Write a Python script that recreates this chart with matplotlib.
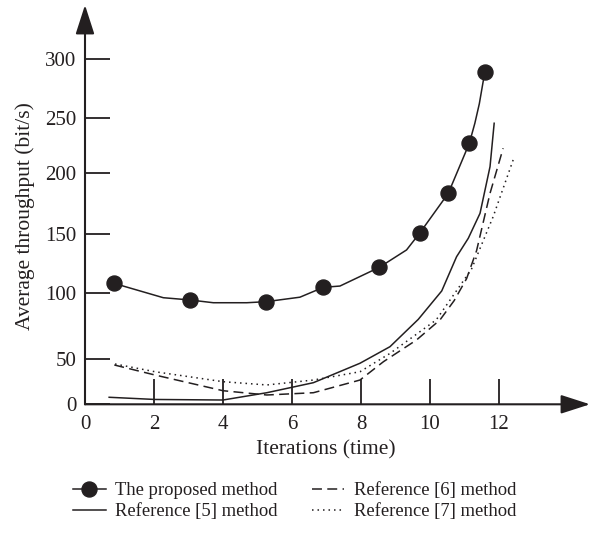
import numpy as np
from matplotlib import pyplot as plt

# --- data ---
proposed_x = [0.84, 2.27, 3.04, 3.72, 4.69, 5.25, 6.23, 6.91, 7.39, 8.53, 9.32, 9.71,
              10.53, 11.14, 11.30, 11.43, 11.59]
proposed_y = [108.0, 96.2, 94.5, 92.4, 92.4, 93.2, 96.6, 104.6, 105.7, 121.7, 136.6, 151.3,
              183.6, 227.0, 245.0, 262.0, 289.4]
proposed_marks = [0, 2, 5, 7, 9, 11, 12, 13, 16]

ref5_x = [0.70, 2.03, 4.0, 5.27, 6.62, 7.97, 8.84, 9.66, 10.34, 10.77, 11.11, 11.45, 11.74, 11.86]
ref5_y = [7.7, 5.3, 4.7, 12.7, 23.7, 45.0, 59.1, 79.8, 101.5, 130.8, 146.6, 167.2, 206.0, 245.0]

ref6_x = [0.85, 2.03, 4.0, 5.27, 6.62, 7.97, 8.65, 9.61, 10.29, 10.70, 11.06, 11.35, 11.74, 12.12]
ref6_y = [43.1, 32.1, 14.9, 10.2, 12.7, 26.6, 46.7, 64.2, 79.4, 94.0, 112.0, 136.0, 183.6, 222.5]

ref7_x = [0.87, 2.03, 4.0, 5.27, 6.62, 7.97, 8.84, 10.18, 11.20, 11.83, 12.41]
ref7_y = [44.2, 35.7, 24.8, 21.2, 26.6, 35.7, 54.0, 79.4, 120.0, 164.4, 212.0]

labels = ["The proposed method", "Reference [5] method",
          "Reference [6] method", "Reference [7] method"]
x_ticks = [0, 2, 4, 6, 8, 10, 12]
y_ticks = [0, 50, 100, 150, 200, 250, 300]

# --- uneven y axis of the original (pixel height of each tick) ---
scale_vals = [-50, 0, 50, 100, 150, 200, 250, 300, 400]
scale_px = [-45.6, 0, 45.6, 111.6, 170.0, 231.0, 286.6, 345.0, 461.8]


def forward(v):
    return np.interp(v, scale_vals, scale_px)


def inverse(h):
    return np.interp(h, scale_px, scale_vals)


ink = "#231f20"
plt.rcParams['font.family'] = ['Liberation Serif', 'DejaVu Serif']

fig = plt.figure(figsize=(6.01, 5.39), dpi=100)
W, H = 601, 539
ax = fig.add_axes([85 / W, (H - 404.3) / H, 505 / W, 399.3 / H])
ax.set_yscale('function', functions=(forward, inverse))

lw = 1.1
ax.plot(proposed_x, proposed_y, color=ink, lw=lw, marker='o', markersize=10.8,
        markevery=proposed_marks, clip_on=False)
ax.plot(ref5_x, ref5_y, color=ink, lw=lw, clip_on=False)
ax.plot(ref6_x, ref6_y, color=ink, lw=lw, dashes=(6.5, 3.5), clip_on=False)
ax.plot(ref7_x, ref7_y, color=ink, lw=lw, dashes=(1, 2.6), clip_on=False)

ax.set_xlim(0, 505 / 34.5)
ax.set_ylim(0, inverse(399.3))
ax.set_xticks(x_ticks)
ax.set_yticks(y_ticks)
ax.tick_params(direction='in', length=18, width=1.3, color=ink, labelcolor=ink,
               labelsize=15, pad=6)
ax.tick_params(axis='x', pad=8)

# axes drawn as arrows
for s in ax.spines.values():
    s.set_visible(False)
arrow = dict(arrowstyle='-|>,head_length=18,head_width=5.8', mutation_scale=1,
             lw=1.5, color=ink, shrinkA=0, shrinkB=0)
ax.annotate('', xy=(1, 0), xytext=(0, 0), xycoords='axes fraction', arrowprops=arrow,
            annotation_clip=False)
ax.annotate('', xy=(0, 1), xytext=(0, 0), xycoords='axes fraction', arrowprops=arrow,
            annotation_clip=False)

fig.text(326 / W, 1 - 450 / H, "Iterations (time)", ha='center', va='center',
         fontsize=15.5, color=ink)
fig.text(25 / W, 1 - 216.5 / H, "Average throughput (bit/s)", ha='center', va='center',
         rotation=90, fontsize=15.5, color=ink)

handles = ax.get_lines()
leg = fig.legend([handles[0], handles[1], handles[2], handles[3]], labels, ncol=2,
                 loc='upper left', bbox_to_anchor=(73 / W, 1 - 482 / H),
                 frameon=False, fontsize=13.4, handlelength=1.75, handletextpad=0.5,
                 columnspacing=1.85, labelspacing=0.22, borderpad=0, borderaxespad=0)
for t in leg.get_texts():
    t.set_color(ink)

fig.savefig("out.png", dpi=100)
